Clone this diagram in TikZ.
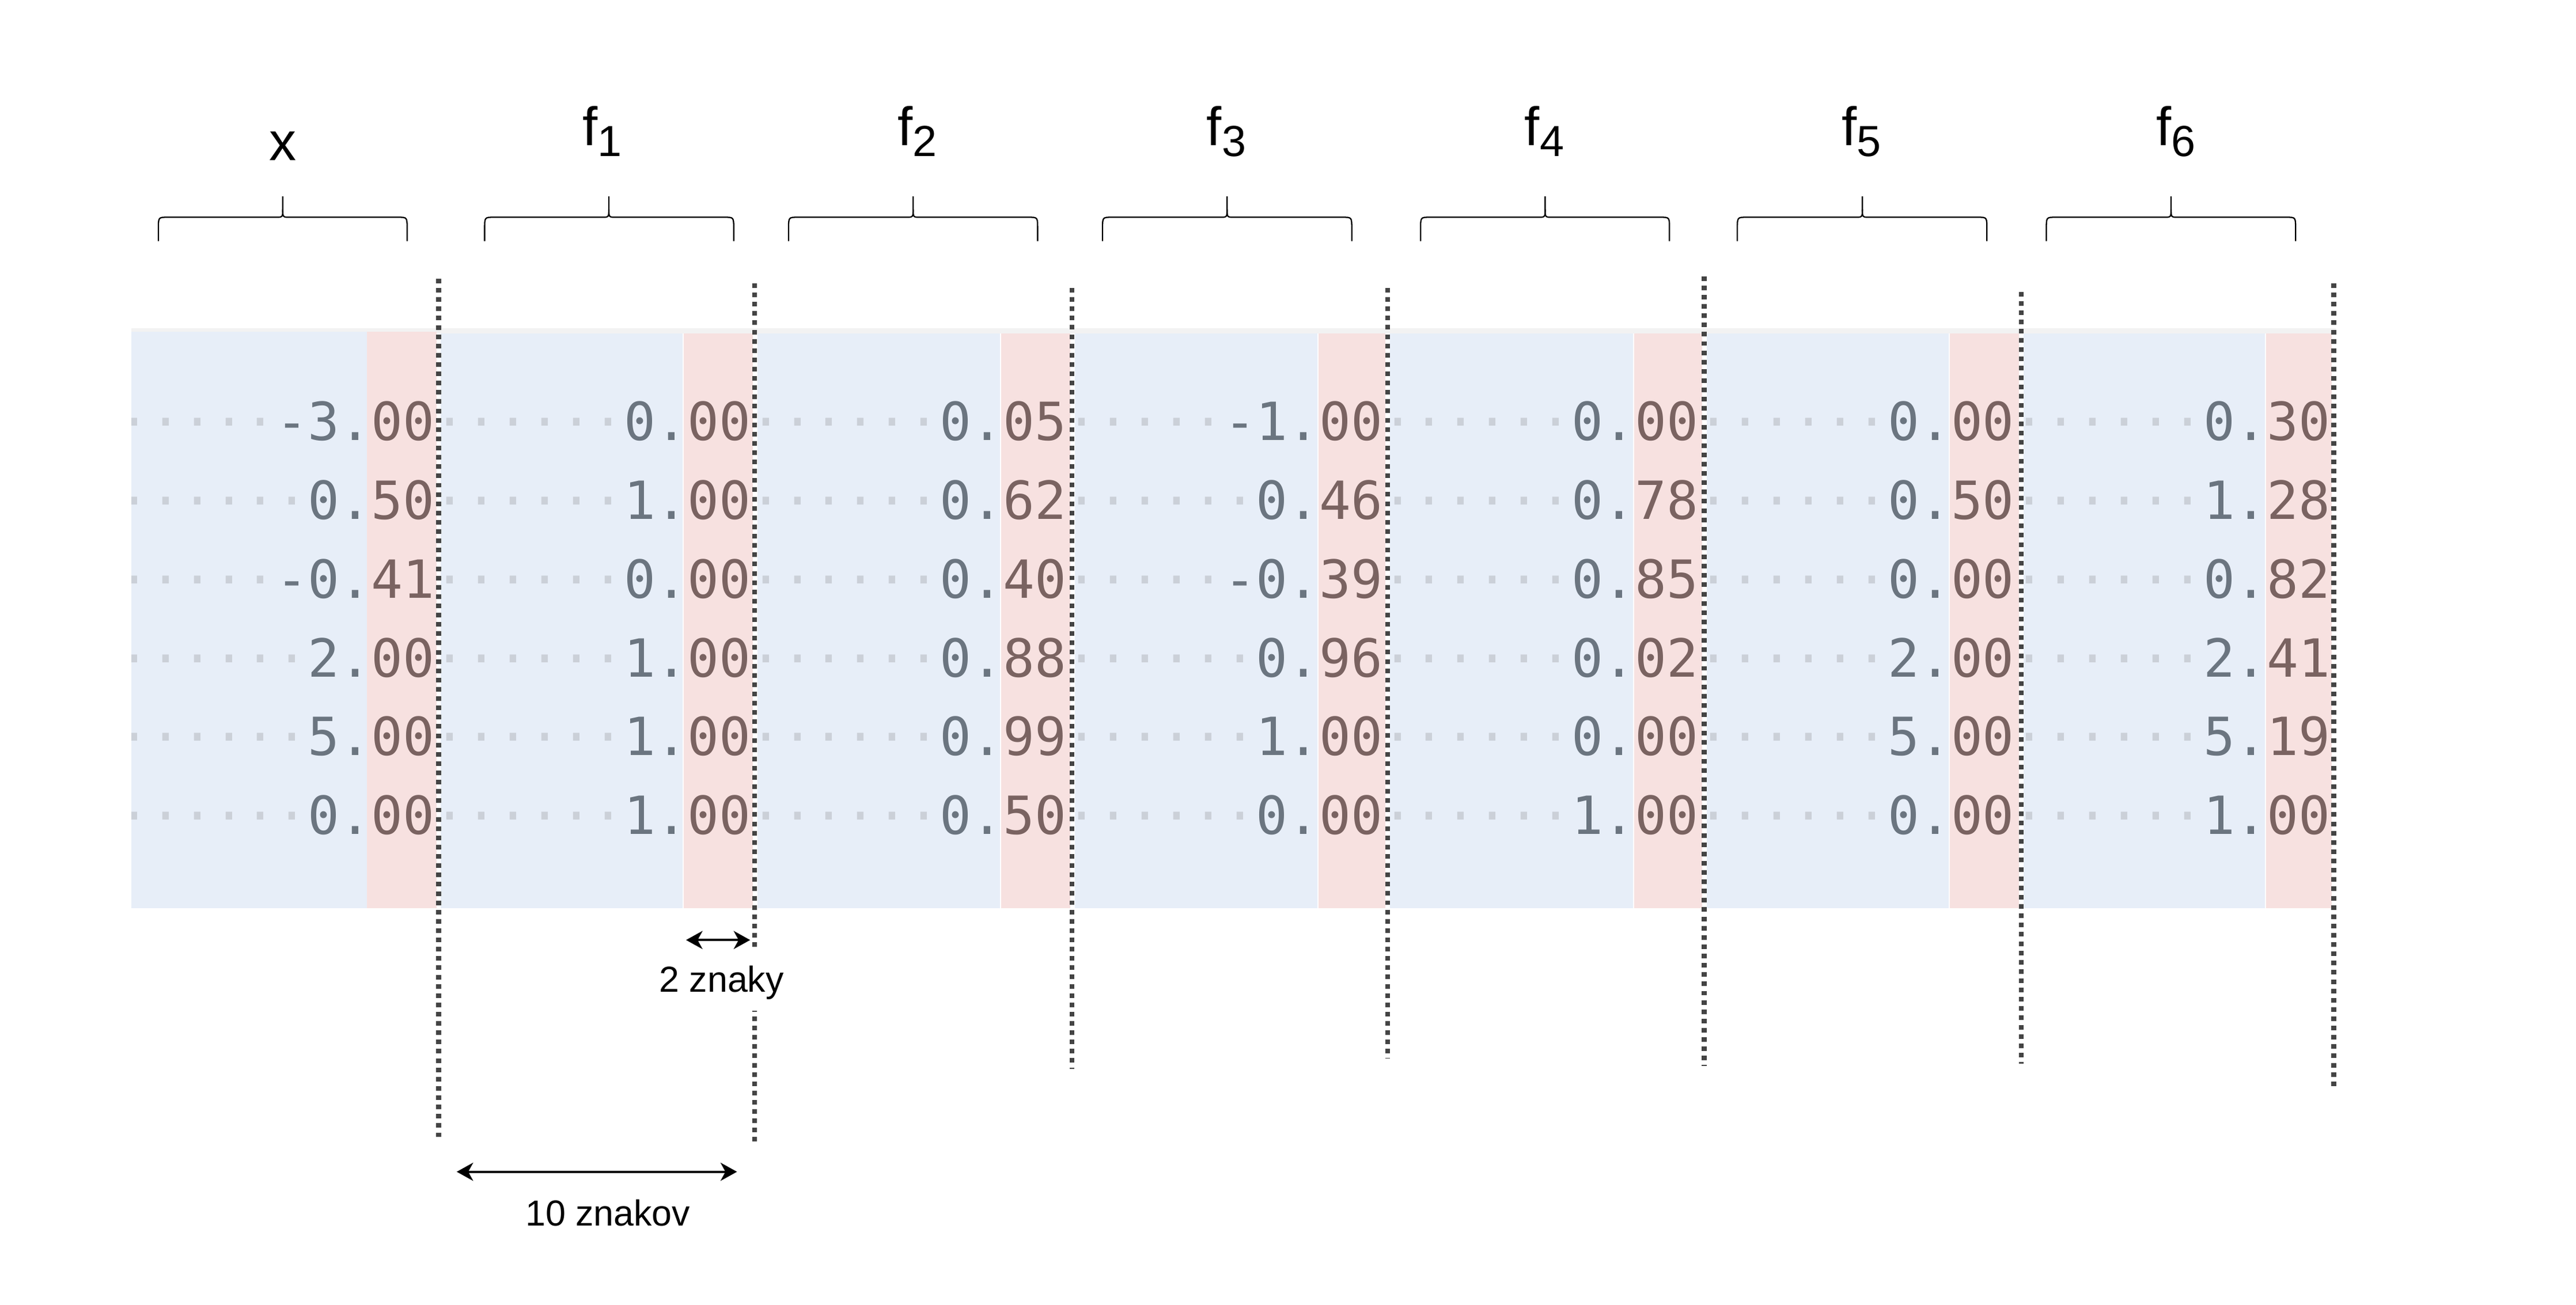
\documentclass[tikz,border=0pt]{standalone}
\usepackage{fontspec}
\setmainfont{Liberation Sans}
\newfontfamily\monof{DejaVu Sans Mono}
\usetikzlibrary{arrows.meta}
\definecolor{cellblue}{HTML}{E7EEF8}
\definecolor{cellred}{HTML}{F7E1E0}
\definecolor{numgray}{HTML}{6B7580}
\definecolor{numbrown}{HTML}{7A6361}
\definecolor{dotgray}{HTML}{CBD0D8}
\definecolor{linegray}{HTML}{444444}
\definecolor{topstrip}{HTML}{F2F2F2}
\tikzset{
  sepline/.style={draw=linegray, line width=2.9pt, dash pattern=on 2.8pt off 2.85pt},
  bracestyle/.style={draw=black, line width=0.8pt},
  numtxt/.style={anchor=base east, inner sep=0pt, outer sep=0pt, font=\monof\fontsize{32}{32}\selectfont, text=numgray},
  hdr/.style={anchor=base, inner sep=0pt, font=\fontsize{33}{33}\selectfont},
  lbl/.style={anchor=base, inner sep=0pt, font=\fontsize{22}{22}\selectfont},
  dimarrow/.style={draw=black, line width=1.4pt, {Stealth[length=10pt,width=11pt,inset=3pt]}-{Stealth[length=10pt,width=11pt,inset=3pt]}},
  bluecell/.style={fill=cellblue, draw=none},
  redcell/.style={fill=cellred, draw=none},
}
\newcommand\cellnum[3]{{\color{dotgray}#1}#2{\color{numbrown}#3}}
\newcommand\fsub[1]{f\raisebox{-6.8pt}{\fontsize{26.5}{26.5}\selectfont #1}}
\newcommand\curlybr[3]{%
  \draw[bracestyle] (#1,146.8) -- (#1,139.3) .. controls (#1,132.3) .. (#1+5.3,132.3)
    -- (#2-4.8,132.3) .. controls (#2,132.3) .. (#2,127.5) -- (#2,119.5);
  \draw[bracestyle] (#2,127.5) .. controls (#2,132.3) .. (#2+4.8,132.3)
    -- (#3-5.3,132.3) .. controls (#3,132.3) .. (#3,139.3) -- (#3,146.8);}
\begin{document}
\begin{tikzpicture}[x=1pt,y=-1pt]
\useasboundingbox (0,0) rectangle (1568,794.5);
\fill[white] (0,0) rectangle (1568,794.5);

% table background
\fill[topstrip] (80,200) rectangle (1421.8,203);
% column 0
\fill[bluecell] (80,202) rectangle (223.4,553);
\fill[redcell] (223.4,202) rectangle (265.8,553);
% column 1
\fill[bluecell] (268.2,203) rectangle (415.4,553);
\fill[redcell] (416.2,203) rectangle (458.2,553);
% column 2
\fill[bluecell] (460.9,203) rectangle (608.6,553);
\fill[redcell] (609.4,203) rectangle (651.3,553);
% column 3
\fill[bluecell] (654.1,203) rectangle (801.8,553);
\fill[redcell] (802.6,203) rectangle (843.3,553);
% column 4
\fill[bluecell] (846.1,203) rectangle (994.0,553);
\fill[redcell] (994.8,203) rectangle (1036.0,553);
% column 5
\fill[bluecell] (1038.8,203) rectangle (1186.1,553);
\fill[redcell] (1186.9,203) rectangle (1229.0,553);
% column 6
\fill[bluecell] (1231.8,203) rectangle (1378.6,553);
\fill[redcell] (1379.2,203) rectangle (1419.2,553);

% numbers, column x (clipped at table edge)
\begin{scope}
\clip (80,190) rectangle (270,560);
\node[numtxt] (n01) at (264.6,268) {\cellnum{·····}{-3.}{00}};
\node[numtxt] (n02) at (264.6,316) {\cellnum{······}{0.}{50}};
\node[numtxt] (n03) at (264.6,364) {\cellnum{·····}{-0.}{41}};
\node[numtxt] (n04) at (264.6,412) {\cellnum{······}{2.}{00}};
\node[numtxt] (n05) at (264.6,460) {\cellnum{······}{5.}{00}};
\node[numtxt] (n06) at (264.6,508) {\cellnum{······}{0.}{00}};
\end{scope}
% f1
\node[numtxt] (n11) at (456.9,268) {\cellnum{······}{0.}{00}};
\node[numtxt] (n12) at (456.9,316) {\cellnum{······}{1.}{00}};
\node[numtxt] (n13) at (456.9,364) {\cellnum{······}{0.}{00}};
\node[numtxt] (n14) at (456.9,412) {\cellnum{······}{1.}{00}};
\node[numtxt] (n15) at (456.9,460) {\cellnum{······}{1.}{00}};
\node[numtxt] (n16) at (456.9,508) {\cellnum{······}{1.}{00}};
% f2
\node[numtxt] (n21) at (649.2,268) {\cellnum{······}{0.}{05}};
\node[numtxt] (n22) at (649.2,316) {\cellnum{······}{0.}{62}};
\node[numtxt] (n23) at (649.2,364) {\cellnum{······}{0.}{40}};
\node[numtxt] (n24) at (649.2,412) {\cellnum{······}{0.}{88}};
\node[numtxt] (n25) at (649.2,460) {\cellnum{······}{0.}{99}};
\node[numtxt] (n26) at (649.2,508) {\cellnum{······}{0.}{50}};
% f3
\node[numtxt] (n31) at (841.5,268) {\cellnum{·····}{-1.}{00}};
\node[numtxt] (n32) at (841.5,316) {\cellnum{······}{0.}{46}};
\node[numtxt] (n33) at (841.5,364) {\cellnum{·····}{-0.}{39}};
\node[numtxt] (n34) at (841.5,412) {\cellnum{······}{0.}{96}};
\node[numtxt] (n35) at (841.5,460) {\cellnum{······}{1.}{00}};
\node[numtxt] (n36) at (841.5,508) {\cellnum{······}{0.}{00}};
% f4
\node[numtxt] (n41) at (1033.8,268) {\cellnum{······}{0.}{00}};
\node[numtxt] (n42) at (1033.8,316) {\cellnum{······}{0.}{78}};
\node[numtxt] (n43) at (1033.8,364) {\cellnum{······}{0.}{85}};
\node[numtxt] (n44) at (1033.8,412) {\cellnum{······}{0.}{02}};
\node[numtxt] (n45) at (1033.8,460) {\cellnum{······}{0.}{00}};
\node[numtxt] (n46) at (1033.8,508) {\cellnum{······}{1.}{00}};
% f5
\node[numtxt] (n51) at (1226.1,268) {\cellnum{······}{0.}{00}};
\node[numtxt] (n52) at (1226.1,316) {\cellnum{······}{0.}{50}};
\node[numtxt] (n53) at (1226.1,364) {\cellnum{······}{0.}{00}};
\node[numtxt] (n54) at (1226.1,412) {\cellnum{······}{2.}{00}};
\node[numtxt] (n55) at (1226.1,460) {\cellnum{······}{5.}{00}};
\node[numtxt] (n56) at (1226.1,508) {\cellnum{······}{0.}{00}};
% f6
\node[numtxt] (n61) at (1418.4,268) {\cellnum{······}{0.}{30}};
\node[numtxt] (n62) at (1418.4,316) {\cellnum{······}{1.}{28}};
\node[numtxt] (n63) at (1418.4,364) {\cellnum{······}{0.}{82}};
\node[numtxt] (n64) at (1418.4,412) {\cellnum{······}{2.}{41}};
\node[numtxt] (n65) at (1418.4,460) {\cellnum{······}{5.}{19}};
\node[numtxt] (n66) at (1418.4,508) {\cellnum{······}{1.}{00}};

% separator lines
\coordinate (s0t) at (267.0,169.7);  \coordinate (s0b) at (267.0,693.8);
\coordinate (s1t) at (459.4,172.5);  \coordinate (s1b) at (459.4,696.5);
\coordinate (s2t) at (652.6,175.3);  \coordinate (s2b) at (652.6,650.6);
\coordinate (s3t) at (844.6,175.3);  \coordinate (s3b) at (844.6,644.6);
\coordinate (s4t) at (1037.3,168.2); \coordinate (s4b) at (1037.3,648.9);
\coordinate (s5t) at (1230.3,177.6); \coordinate (s5b) at (1230.3,647.5);
\coordinate (s6t) at (1420.5,172.5); \coordinate (s6b) at (1420.5,662.0);
\foreach \i in {0,...,6} { \draw[sepline] (s\i t) -- (s\i b); }

% braces and headers
\curlybr{96.4}{172.1}{247.8}
\curlybr{295.0}{370.6}{446.6}
\curlybr{480.0}{555.8}{631.6}
\curlybr{671.1}{746.9}{822.8}
\curlybr{864.7}{940.5}{1016.2}
\curlybr{1057.5}{1133.6}{1209.4}
\curlybr{1245.6}{1321.5}{1397.3}
\node[hdr] (hx) at (172.0,97.6) {x};
\node[hdr] (h1) at (366.7,88.5) {\fsub{1}};
\node[hdr] (h2) at (558.5,88.5) {\fsub{2}};
\node[hdr] (h3) at (746.5,88.5) {\fsub{3}};
\node[hdr] (h4) at (940.0,88.5) {\fsub{4}};
\node[hdr] (h5) at (1133.0,88.5) {\fsub{5}};
\node[hdr] (h6) at (1324.5,88.5) {\fsub{6}};

% dimension arrows
\coordinate (a2l) at (417.6,572.3);
\coordinate (a2r) at (456.6,572.3);
\draw[dimarrow] (a2l) -- (a2r);
\node[lbl, fill=white, text height=25.4pt, text depth=11.6pt, inner xsep=3pt] (l2) at (439.2,603.8) {2 znaky};
\coordinate (a10l) at (278.0,713.4);
\coordinate (a10r) at (448.6,713.4);
\draw[dimarrow] (a10l) -- (a10r);
\node[lbl] (l10) at (370.0,746.2) {10 znakov};
\end{tikzpicture}
\end{document}
